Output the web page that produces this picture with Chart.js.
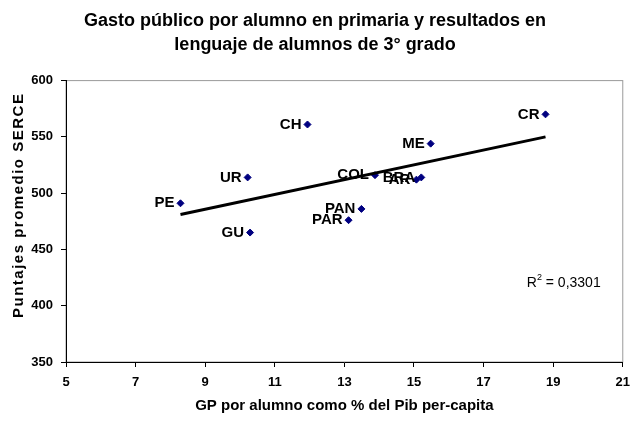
<!DOCTYPE html>
<html>
<head>
<meta charset="utf-8">
<script src="https://cdn.jsdelivr.net/npm/chart.js@4/dist/chart.umd.min.js"></script>
<style>
  html, body { margin: 0; padding: 0; background: #fff; }
  #wrap { width: 638px; height: 429px; }
</style>
</head>
<body>
<div id="wrap"><canvas id="gasto_chart"></canvas></div>
<script>
// datos
const paises = ['PE', 'UR', 'GU', 'CH', 'COL', 'PAN', 'PAR', 'ME', 'CR', 'BRA', 'AR'];
const gasto = [8.29, 10.22, 10.29, 11.94, 13.88, 13.49, 13.12, 15.48, 18.78, 15.21, 15.07];
const puntaje = [491, 514, 465, 561, 516, 486, 476, 544, 570, 514, 512];
const tendenciaX = [8.29, 18.78];
const tendenciaY = [481, 550];
const r2Texto = '0,3301';
const tituloY = 'Puntajes promedio SERCE';

const fuente = "'Liberation Sans', Arial, sans-serif";

let puntos = gasto.map((x, i) => ({ x: x, y: puntaje[i] }));
let linea = tendenciaX.map((x, i) => ({ x: x, y: tendenciaY[i] }));

// borde gris del area de trazado
const bordePlugin = {
    id: 'borde',
    beforeDraw(chart) {
        const a = chart.chartArea;
        const ctx = chart.ctx;
        ctx.save();
        ctx.strokeStyle = '#9a9a9a';
        ctx.lineWidth = 1;
        ctx.strokeRect(a.left, a.top, a.right - a.left, a.bottom - a.top);

        // titulo del eje y, con letras espaciadas como en el original
        ctx.fillStyle = '#000';
        ctx.font = 'bold 15px ' + fuente;
        ctx.letterSpacing = '1.5px';
        ctx.textAlign = 'center';
        ctx.textBaseline = 'middle';
        ctx.translate(19, (a.top + a.bottom) / 2 - 16);
        ctx.rotate(-Math.PI / 2);
        ctx.fillText(tituloY, 0, 0);
        ctx.restore();
    }
};

// etiquetas de paises y R2
const etiquetasPlugin = {
    id: 'etiquetas',
    afterDatasetsDraw(chart) {
        const ctx = chart.ctx;
        const meta = chart.getDatasetMeta(0);
        ctx.save();
        ctx.fillStyle = '#000';
        ctx.font = 'bold 15px ' + fuente;
        ctx.textAlign = 'right';
        ctx.textBaseline = 'middle';
        meta.data.forEach((p, i) => {
            ctx.fillText(paises[i], p.x - 6, p.y);
        });

        const a = chart.chartArea;
        let x = a.right - 96;
        let y = a.top + 203;
        ctx.textAlign = 'left';
        ctx.font = '14px ' + fuente;
        ctx.fillText('R', x, y);
        x += ctx.measureText('R').width;
        ctx.font = '9px ' + fuente;
        ctx.fillText('2', x, y - 6);
        x += ctx.measureText('2').width;
        ctx.font = '14px ' + fuente;
        ctx.fillText(' = ' + r2Texto, x, y);
        ctx.restore();
    }
};

const gasto_chart = document.getElementById('gasto_chart');

let chart = new Chart(gasto_chart, {
    type: 'scatter',
    data: {
        datasets: [
            {
                label: 'Paises',
                data: puntos,
                pointStyle: 'rectRot',
                pointRadius: 3.5,
                backgroundColor: '#000080',
                borderColor: '#000080',
                borderWidth: 1,
                order: 2
            },
            {
                label: 'Tendencia',
                type: 'line',
                data: linea,
                borderColor: '#000',
                borderWidth: 3,
                pointRadius: 0,
                fill: false,
                order: 1
            }
        ]
    },
    options: {
        responsive: true,
        maintainAspectRatio: false,
        animation: false,
        layout: {
            padding: { top: 9, right: 8, left: 0, bottom: 0 }
        },
        plugins: {
            legend: { display: false },
            tooltip: { enabled: false },
            title: {
                display: true,
                text: ['Gasto público por alumno en primaria y resultados en', 'lenguaje de alumnos de 3° grado'],
                color: '#000',
                font: { family: fuente, size: 18, weight: 'bold', lineHeight: 1.35 },
                padding: { top: 0, bottom: 23 }
            }
        },
        scales: {
            x: {
                type: 'linear',
                min: 5,
                max: 21,
                ticks: {
                    stepSize: 2,
                    color: '#000',
                    font: { family: fuente, size: 13, weight: 'bold' },
                    padding: 8
                },
                grid: {
                    drawOnChartArea: false,
                    drawTicks: true,
                    tickLength: 5,
                    color: '#000'
                },
                border: { display: true, color: '#000', width: 1 },
                title: {
                    display: true,
                    text: 'GP por alumno como % del Pib per-capita',
                    color: '#000',
                    font: { family: fuente, size: 15, weight: 'bold' },
                    padding: { top: 6, bottom: 14 }
                },
                afterFit(scale) { scale.height = 67; }
            },
            y: {
                type: 'linear',
                min: 350,
                max: 600,
                ticks: {
                    stepSize: 50,
                    color: '#000',
                    font: { family: fuente, size: 13, weight: 'bold' },
                    padding: 8
                },
                grid: {
                    drawOnChartArea: false,
                    drawTicks: true,
                    tickLength: 5,
                    color: '#000'
                },
                border: { display: true, color: '#000', width: 1 },
                afterFit(scale) { scale.width = 66; }
            }
        }
    },
    plugins: [bordePlugin, etiquetasPlugin]
});
</script>
</body>
</html>
